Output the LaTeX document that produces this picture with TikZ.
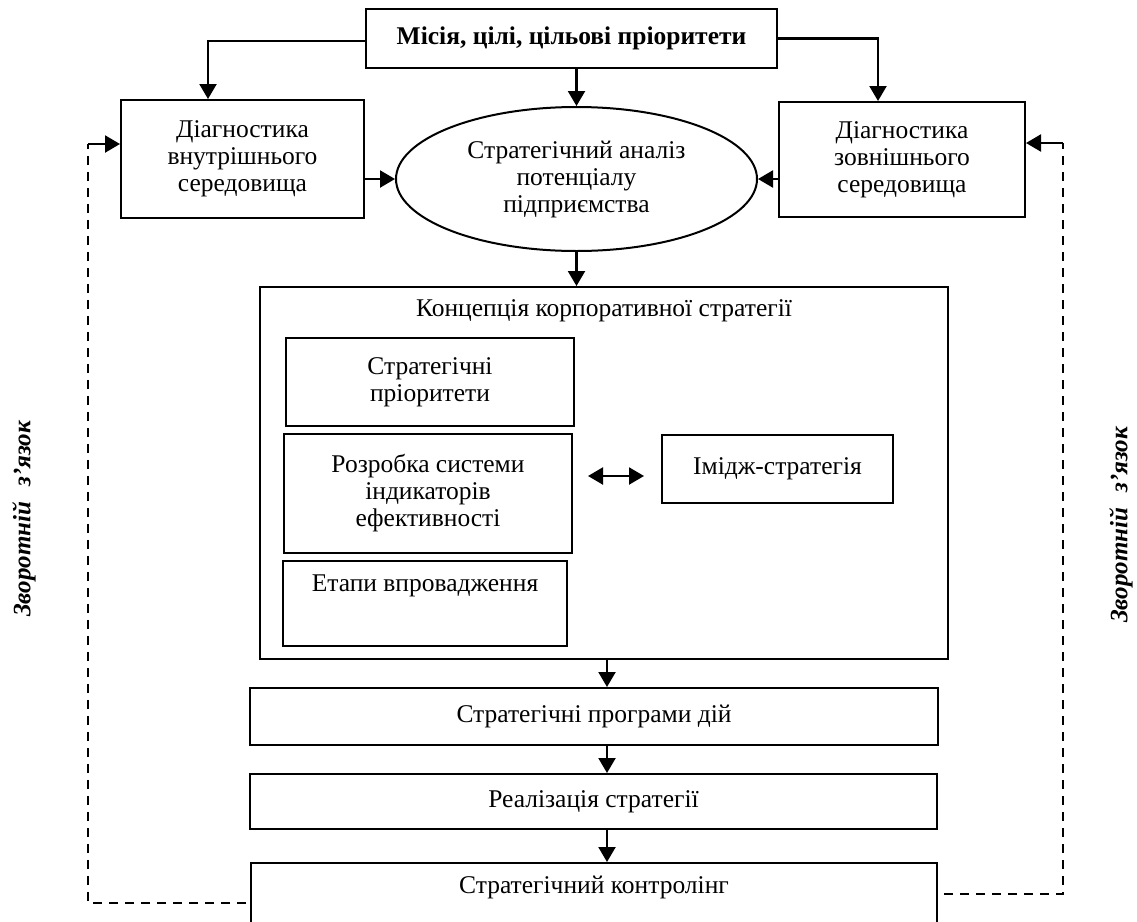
\documentclass[tikz,border=0pt]{standalone}
\usepackage{fontspec}
\setmainfont{Liberation Serif}
\usetikzlibrary{shapes.geometric,arrows.meta,calc}
\begin{document}
\begin{tikzpicture}[x=1pt,y=-1pt,
  box/.style={draw,line width=2pt,inner sep=0pt,align=center,font=\fontsize{25.5}{27}\selectfont},
  txt/.style={inner sep=0pt,align=center,font=\fontsize{25.5}{27}\selectfont},
  arr/.style={line width=2.2pt,-{Triangle[length=15pt,width=17pt]}},
  dbl/.style={line width=2.2pt,{Triangle[length=15pt,width=17pt]}-{Triangle[length=15pt,width=17pt]}},
  fb/.style={line width=1.8pt,dash pattern=on 9pt off 7pt},
  fbarr/.style={line width=2.2pt,-{Triangle[length=15pt,width=17pt]}},
  side/.style={inner sep=0pt,rotate=90,font=\fontsize{25}{27}\selectfont\bfseries\itshape}
]
\clip (0,0) rectangle (1137,921);
\fill[white] (0,0) rectangle (1137,921);

% top
\node[box,minimum width=411pt,minimum height=59pt,font=\fontsize{25.5}{27}\selectfont\bfseries] (mis) at (571.5,38.5) {Місія, цілі, цільові пріоритети};

\node[box,minimum width=243pt,minimum height=118pt] (ld) at (242.5,159) {Діагностика\\внутрішнього\\середовища};
\node[box,minimum width=246pt,minimum height=115pt] (rd) at (902,159.5) {Діагностика\\зовнішнього\\середовища};
\node[draw,line width=2pt,ellipse,inner sep=0pt,minimum width=361pt,minimum height=144pt,align=center,font=\fontsize{25.5}{27}\selectfont] (el) at (576.5,179) {Стратегічний аналіз\\потенціалу\\підприємства};

% concept block
\node[box,minimum width=688pt,minimum height=372pt] (conc) at (604,473) {};
\node[txt] (conct) at (604,311) {Концепція корпоративної стратегії};
\node[box,minimum width=288pt,minimum height=88pt] (sp) at (430,382) {Стратегічні\\пріоритети};
\node[box,minimum width=288pt,minimum height=119pt] (rz) at (428,493.5) {Розробка системи\\індикаторів\\ефективності};
\node[box,minimum width=284pt,minimum height=85pt] (et) at (425,603.5) {};
\node[txt] (ett) at (425,586) {Етапи впровадження};
\node[box,minimum width=231pt,minimum height=68pt] (im) at (777.5,469) {Імідж-стратегія};

% lower chain
\node[box,minimum width=688pt,minimum height=57pt] (pr) at (594,716.5) {Стратегічні програми дій};
\node[box,minimum width=687pt,minimum height=55pt] (re) at (593.5,801.5) {Реалізація стратегії};
\node[box,minimum width=686pt,minimum height=90pt] (ko) at (594,908) {};
\node[txt] (kot) at (594,887) {Стратегічний контролінг};

% side labels
\node[side] (sl) at (24,519) {Зворотній\hspace{0.6em}з’язок};
\node[side] (sr) at (1121,525) {Зворотній\hspace{0.6em}з’язок};

% arrows from top
\draw[arr] ([yshift=-2.5pt]mis.west) -| ([xshift=-34.5pt]ld.north);
\draw[arr] (mis.east) -| ([xshift=-24pt]rd.north);
\draw[arr] (el.north |- mis.south) -- (el.north);
\draw[arr] (ld.east |- el.west) -- (el.west);
\draw[arr] (rd.west |- el.east) -- (el.east);
\draw[arr] (el.south) -- (el.south |- conc.north);
\draw[dbl] ([xshift=15pt,yshift=17.5pt]rz.east) -- ([xshift=-17pt,yshift=-7pt]im.west);
\draw[arr] ([xshift=3pt]conc.south) -- ([xshift=3pt]conc.south |- pr.north);
\draw[arr] ([xshift=3pt]conc.south |- pr.south) -- ([xshift=3pt]conc.south |- re.north);
\draw[arr] ([xshift=3pt]conc.south |- re.south) -- ([xshift=3pt]conc.south |- ko.north);

% feedback
\coordinate (lb) at (88,903);
\coordinate (lt) at (88,144);
\coordinate (rb) at (1063,894);
\coordinate (rt) at (1063,143);
\draw[fb] ([xshift=-4pt]ko.west |- lb) -- (lb) -- (lt);
\draw[fbarr] (lt) -- (lt -| ld.west);
\draw[fb] ([xshift=6pt]ko.east |- rb) -- (rb) -- (rt);
\draw[fbarr] (rt) -- (rt -| rd.east);
\end{tikzpicture}
\end{document}
